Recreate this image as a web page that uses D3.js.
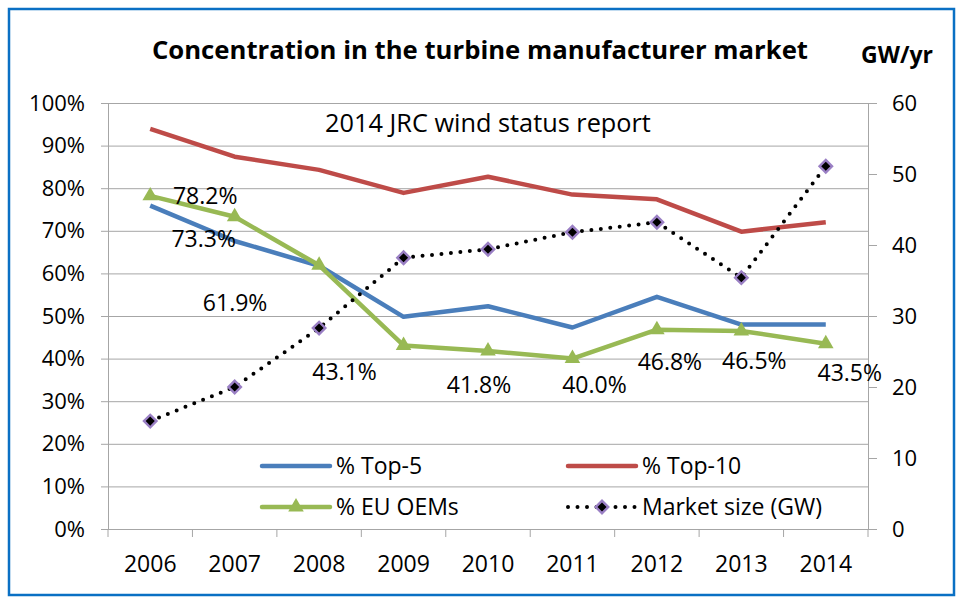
<!DOCTYPE html>
<html>
<head>
<meta charset="utf-8">
<title>Concentration in the turbine manufacturer market</title>
<script src="https://cdn.jsdelivr.net/npm/d3@7/dist/d3.min.js"></script>
<style>
  body { margin: 0; background: #fff; }
  text { font-family: "Open Sans", sans-serif; fill: #000; }
</style>
</head>
<body>
<div class="chart-area"></div>
<script>
// values
var years = ['2006', '2007', '2008', '2009', '2010', '2011', '2012', '2013', '2014'];
var top5 = [75.9, 67.6, 61.8, 49.8, 52.3, 47.3, 54.5, 48.0, 48.0];
var top10 = [93.9, 87.4, 84.3, 78.9, 82.7, 78.5, 77.4, 69.8, 72.0];
var euOems = [78.2, 73.3, 61.9, 43.1, 41.8, 40.0, 46.8, 46.5, 43.5];
var marketGW = [15.2, 20.0, 28.3, 38.2, 39.4, 41.8, 43.2, 35.4, 51.1];
var pctTicks = [0, 10, 20, 30, 40, 50, 60, 70, 80, 90, 100];
var gwTicks = [0, 10, 20, 30, 40, 50, 60];
var seriesNames = ['% Top-5', '% Top-10', '% EU OEMs', 'Market size (GW)'];

// hand placed data labels in the original, offsets from each point (px)
var labelNudge = [[55, 8], [-31, 30], [-84, 46], [-59, 35], [-9, 42], [22, 34], [13, 40], [13, 38], [24, 37]];

var W = 956, H = 597;
var plot = { left: 108, right: 868, top: 103, bottom: 529 };

var colors = { top5: '#4a7ebb', top10: '#be4b48', eu: '#98b954', grid: '#a6a6a6' };

var svg = d3.select('.chart-area').append('svg')
    .attr('width', W)
    .attr('height', H);

// blue frame
svg.append('rect')
    .attr('x', 9).attr('y', 9)
    .attr('width', 945).attr('height', 586)
    .attr('fill', 'none')
    .attr('stroke', '#0a70c4')
    .attr('stroke-width', 2.5);

var x = d3.scaleBand().domain(years).range([plot.left, plot.right]);
var yPct = d3.scaleLinear().domain([0, 100]).range([plot.bottom, plot.top]);
var yGW = d3.scaleLinear().domain([0, 60]).range([plot.bottom, plot.top]);
var cx = function(i) { return x(years[i]) + x.bandwidth() / 2; };

// gridlines + left axis
var gLeft = svg.append('g').attr('transform', 'translate(' + plot.left + ',0)')
    .call(d3.axisLeft(yPct)
        .tickValues(pctTicks)
        .tickSizeInner(-(plot.right - plot.left))
        .tickSizeOuter(0)
        .tickPadding(23)
        .tickFormat(function(d) { return d + '%'; }));
gLeft.selectAll('.tick line').attr('stroke', colors.grid).attr('x1', -7);
gLeft.select('.domain').attr('stroke', colors.grid);
gLeft.selectAll('text').style('font-size', '22px').attr('fill', '#000');

// right axis
var gRight = svg.append('g').attr('transform', 'translate(' + plot.right + ',0)')
    .call(d3.axisRight(yGW)
        .tickValues(gwTicks)
        .tickSizeInner(9)
        .tickSizeOuter(0)
        .tickPadding(15));
gRight.selectAll('.tick line').attr('stroke', colors.grid);
gRight.select('.domain').attr('stroke', colors.grid);
gRight.selectAll('text').style('font-size', '22px').attr('fill', '#000');

// bottom axis, ticks between categories like Excel
var gBottom = svg.append('g').attr('transform', 'translate(0,' + plot.bottom + ')')
    .call(d3.axisBottom(x).tickSize(0).tickPadding(27));
gBottom.select('.domain').attr('stroke', colors.grid);
gBottom.selectAll('text').style('font-size', '23px').attr('fill', '#000');
gBottom.selectAll('.boundary')
    .data(years.map(function(d) { return x(d); }).concat([plot.right]))
    .enter().append('line')
    .attr('x1', function(d) { return d; })
    .attr('x2', function(d) { return d; })
    .attr('y1', 0).attr('y2', 8)
    .attr('stroke', colors.grid);

// lines
var linePct = d3.line()
    .x(function(d, i) { return cx(i); })
    .y(function(d) { return yPct(d); });
var lineGW = d3.line()
    .x(function(d, i) { return cx(i); })
    .y(function(d) { return yGW(d); });

svg.append('path').datum(top10)
    .attr('d', linePct).attr('fill', 'none')
    .attr('stroke', colors.top10).attr('stroke-width', 4.5).attr('stroke-linejoin', 'round');

svg.append('path').datum(top5)
    .attr('d', linePct).attr('fill', 'none')
    .attr('stroke', colors.top5).attr('stroke-width', 4.5).attr('stroke-linejoin', 'round');

svg.append('path').datum(euOems)
    .attr('d', linePct).attr('fill', 'none')
    .attr('stroke', colors.eu).attr('stroke-width', 4.5).attr('stroke-linejoin', 'round');

var tri = d3.symbol().type(d3.symbolTriangle).size(105);
svg.append('g').selectAll('path')
    .data(euOems).enter().append('path')
    .attr('d', tri)
    .attr('transform', function(d, i) { return 'translate(' + cx(i) + ',' + yPct(d) + ')'; })
    .attr('fill', colors.eu);

svg.append('path').datum(marketGW)
    .attr('d', lineGW).attr('fill', 'none')
    .attr('stroke', '#000').attr('stroke-width', 4)
    .attr('stroke-linecap', 'round')
    .attr('stroke-dasharray', '0,9.5');

var dia = d3.symbol().type(d3.symbolSquare).size(78);
svg.append('g').selectAll('path')
    .data(marketGW).enter().append('path')
    .attr('d', dia)
    .attr('transform', function(d, i) { return 'translate(' + cx(i) + ',' + yGW(d) + ') rotate(45)'; })
    .attr('fill', '#000')
    .attr('stroke', '#9a7fc4')
    .attr('stroke-width', 2.4);

// data labels for the EU share
svg.append('g').selectAll('text')
    .data(euOems).enter().append('text')
    .attr('x', function(d, i) { return cx(i) + labelNudge[i][0]; })
    .attr('y', function(d, i) { return yPct(d) + labelNudge[i][1]; })
    .attr('text-anchor', 'middle')
    .style('font-size', '23px')
    .text(function(d) { return d.toFixed(1) + '%'; });

// titles
svg.append('text')
    .attr('x', 480).attr('y', 59)
    .attr('text-anchor', 'middle')
    .style('font-size', '25.7px').style('font-weight', 'bold')
    .text('Concentration in the turbine manufacturer market');

svg.append('text')
    .attr('x', 897).attr('y', 63)
    .attr('text-anchor', 'middle')
    .style('font-size', '23px').style('font-weight', 'bold')
    .text('GW/yr');

svg.append('text')
    .attr('x', 488).attr('y', 132)
    .attr('text-anchor', 'middle')
    .style('font-size', '25.3px')
    .text('2014 JRC wind status report');

// legend
var legendPos = [[262, 466], [568, 466], [262, 507], [568, 507]];
var lg = svg.append('g').selectAll('g')
    .data(seriesNames).enter().append('g')
    .attr('transform', function(d, i) { return 'translate(' + legendPos[i][0] + ',' + legendPos[i][1] + ')'; });

lg.append('line')
    .attr('x1', 0).attr('x2', 68)
    .attr('stroke', function(d, i) { return [colors.top5, colors.top10, colors.eu, '#000'][i]; })
    .attr('stroke-width', function(d, i) { return i === 3 ? 4 : 4.5; })
    .attr('stroke-linecap', 'round')
    .attr('stroke-dasharray', function(d, i) { return i === 3 ? '0,9.5' : null; });

lg.filter(function(d, i) { return i === 2; }).append('path')
    .attr('d', tri).attr('transform', 'translate(34,0)').attr('fill', colors.eu);
lg.filter(function(d, i) { return i === 3; }).append('path')
    .attr('d', dia).attr('transform', 'translate(34,0) rotate(45)')
    .attr('fill', '#000').attr('stroke', '#9a7fc4').attr('stroke-width', 2.4);

lg.append('text')
    .attr('x', 74).attr('dy', '0.35em')
    .style('font-size', '23px')
    .text(function(d) { return d; });
</script>
</body>
</html>
